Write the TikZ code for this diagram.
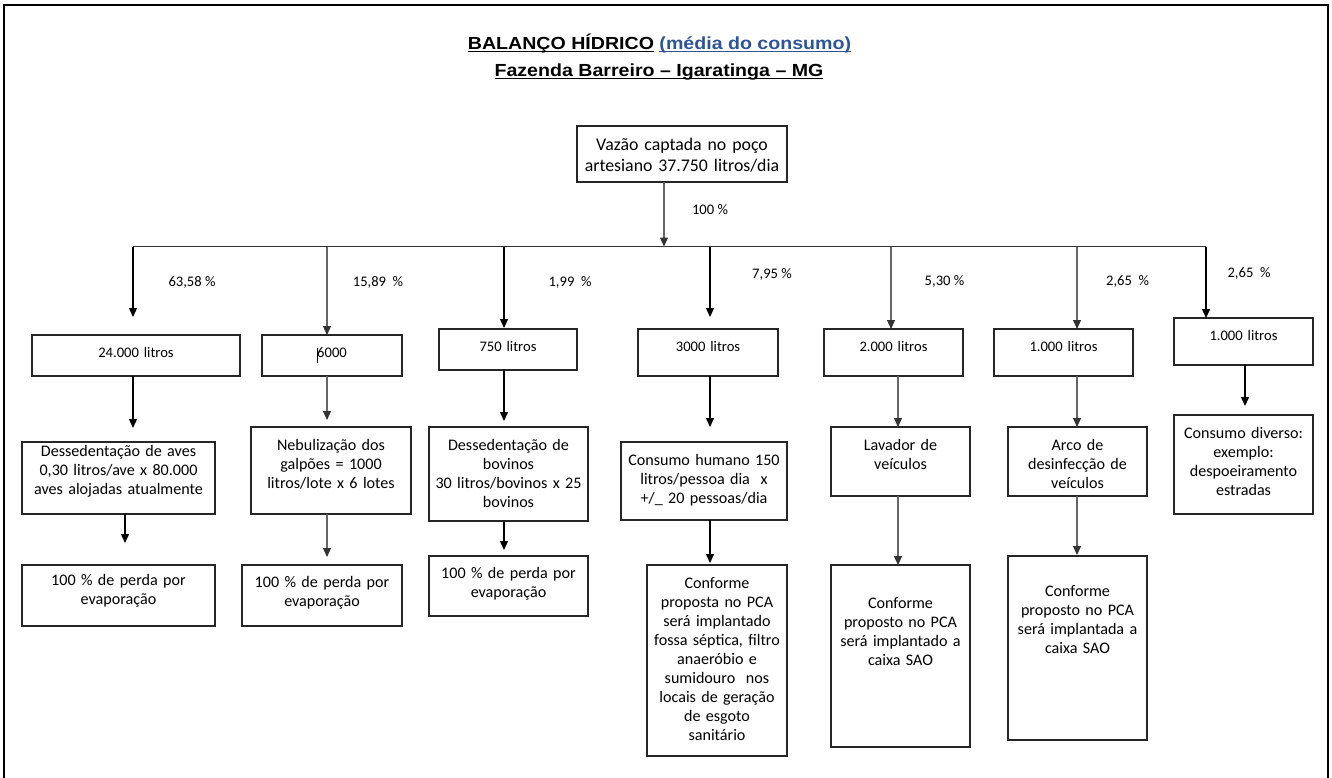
\documentclass[tikz,border=0pt]{standalone}
\usepackage{fontspec}
\setmainfont{Carlito}
\newfontfamily\ttlfont[FakeStretch=1.12]{Liberation Sans}
\usetikzlibrary{arrows.meta,positioning}
\definecolor{ttlblue}{RGB}{47,84,150}
\newcommand\bxfont{\fontsize{16.1}{19}\selectfont}
\newcommand\lvfont{\fontsize{14.6}{18}\selectfont}
\newcommand\topfont{\fontsize{17.8}{21.5}\selectfont}
\newcommand\ttlul[1]{\setbox0\hbox{#1}\rlap{\rule[-3pt]{\wd0}{1.3pt}}\box0\relax}

\begin{document}
\begin{tikzpicture}[x=1pt, y=-1pt]
\tikzstyle{bx}=[draw=black!85, line width=1.4pt, inner sep=0pt, outer sep=0pt,
                        anchor=north, align=center, font=\bxfont]
\tikzstyle{pct}=[inner sep=0pt, font=\lvfont]
\tikzstyle{ttl}=[anchor=base, inner sep=0pt, font=\ttlfont\bfseries\fontsize{17.5}{21}\selectfont]
\tikzstyle{arr}=[draw=black, line width=1.4pt, -{Triangle[length=9pt,width=8pt]}]
\tikzstyle{garr}=[draw=black!60, line width=1.1pt, -{Triangle[length=9pt,width=8pt,color=black!80]}]
\useasboundingbox (0,0) rectangle (1332,777);
\draw[line width=2pt] (4,5) rectangle (1328,800);

\node[ttl] (ttl1) at (659.5,49.3) {\ttlul{BALANÇO HÍDRICO} \textcolor{ttlblue}{\ttlul{(média do consumo)}}};
\node[ttl] (ttl2) at (659,76) {\ttlul{Fazenda Barreiro – Igaratinga – MG}};

\node[bx, font=\topfont, text width=210pt, text height=24pt, text depth=32pt] (poco) at (682,126)
  {Vazão captada no poço\\artesiano 37.750 litros/dia};

% volumes
\node[bx, font=\lvfont, text width=208pt, text height=22.5pt, text depth=18.5pt] (vol1) at (136,335) {24.000 litros};
\node[bx, font=\lvfont, text width=140pt, text height=22.5pt, text depth=18.5pt] (vol2) at (332,335) {\rule[-5pt]{1pt}{14.5pt}\kern-1pt6000};
\node[bx, font=\lvfont, text width=138pt, text height=22.5pt, text depth=18.5pt] (vol3) at (508,329) {750 litros};
\node[bx, font=\lvfont, text width=140pt, text height=22pt, text depth=25pt] (vol4) at (708,329) {3000 litros};
\node[bx, font=\lvfont, text width=139pt, text height=22pt, text depth=25pt] (vol5) at (893.5,329) {2.000 litros};
\node[bx, font=\lvfont, text width=139pt, text height=22pt, text depth=25pt] (vol6) at (1063.5,329) {1.000 litros};
\node[bx, font=\lvfont, text width=139pt, text height=22pt, text depth=25pt] (vol7) at (1243.5,318) {1.000 litros};

% usos
\node[bx, text width=193pt, text height=14.7pt, text depth=57.3pt] (use1) at (118.5,442)
  {Dessedentação de aves\\0,30 litros/ave x 80.000\\aves alojadas atualmente};
\node[bx, text width=160pt, text height=23pt, text depth=64pt] (use2) at (331,427)
  {Nebulização dos\\galpões = 1000\\litros/lote x 6 lotes};
\node[bx, text width=159pt, text height=23pt, text depth=71pt] (use3) at (508.5,427)
  {Dessedentação de\\bovinos\\30 litros/bovinos x 25\\bovinos};
\node[bx, text width=166pt, text height=23pt, text depth=55pt] (use4) at (704,442)
  {Consumo humano 150\\litros/pessoa dia~~x\\+/\_ 20 pessoas/dia};
\node[bx, text width=139pt, text height=23pt, text depth=46pt] (use5) at (900.5,427)
  {Lavador de\\veículos};
\node[bx, text width=139pt, text height=23pt, text depth=46pt] (use6) at (1077.5,427)
  {Arco de\\desinfecção de\\veículos};
\node[bx, text width=139pt, text height=23pt, text depth=76pt] (use7) at (1243.5,415)
  {Consumo diverso:\\exemplo:\\despoeiramento\\estradas};

% destino
\node[bx, text width=193pt, text height=20pt, text depth=41pt] (fim1) at (118.5,565)
  {100 \% de perda por\\evaporação};
\node[bx, text width=160pt, text height=22.7pt, text depth=38.3pt] (fim2) at (322,565)
  {100 \% de perda por\\evaporação};
\node[bx, text width=159pt, text height=22.3pt, text depth=37.7pt] (fim3) at (508.5,556)
  {100 \% de perda por\\evaporação};
\node[bx, text width=140pt, text height=23.3pt, text depth=167.7pt] (fim4) at (717,565)
  {Conforme\\proposta no PCA\\será implantado\\fossa séptica, filtro\\anaeróbio e\\sumidouro~~nos\\locais de geração\\de esgoto\\sanitário};
\node[bx, text width=139pt, text height=43pt, text depth=139pt] (fim5) at (900.5,565)
  {Conforme\\proposto no PCA\\será implantado a\\caixa SAO};
\node[bx, text width=139pt, text height=40.8pt, text depth=143.2pt] (fim6) at (1077.5,556)
  {Conforme\\proposto no PCA\\será implantada a\\caixa SAO};

% percentuais
\node[pct] (p0) at (710,210) {100 \%};
\node[pct] (p1) at (192,282) {63,58 \%};
\node[pct] (p2) at (378,282) {15,89~~\%};
\node[pct] (p3) at (570,282) {1,99~~\%};
\node[pct] (p4) at (772,274) {7,95 \%};
\node[pct] (p5) at (944.5,281) {5,30 \%};
\node[pct] (p6) at (1127.6,281) {2,65~~\%};
\node[pct] (p7) at (1249,273.5) {2,65~~\%};

\coordinate (b0) at (664,246.5);
\foreach \i/\x in {1/133,2/327,3/504,4/710,5/891,6/1077,7/1206}{\coordinate (b\i) at (\x,246.5);}
\draw[line width=1.3pt, black!80] (b1) -- (b7);
\draw[garr] (poco.south -| b0) -- (b0);
%\draw[garr] (poco) -- (b0);
\foreach \i/\g/\s in {1/18/arr,2/0/garr,3/1/arr,4/12/arr,5/0/garr,6/0/garr,7/0/arr}{\draw[\s, shorten >=\g pt] (b\i) -- (b\i |- vol\i.north);}
\foreach \a/\b/\x/\g/\s in {vol1/use1/133/14/arr,vol2/use2/327/7/garr,vol3/use3/504/6/arr,vol4/use4/710/15/arr,
   vol5/use5/898/0/garr,vol6/use6/1077/0/garr,vol7/use7/1245/9/arr,
   use1/fim1/125/22/arr,use2/fim2/327/8/garr,use3/fim3/504/6/arr,use4/fim4/710/2/arr,
   use5/fim5/898/0/garr,use6/fim6/1077/1/garr}
   {\draw[\s, shorten >=\g pt] (\x,0 |- \a.south) -- (\x,0 |- \b.north);}
\end{tikzpicture}
\end{document}
